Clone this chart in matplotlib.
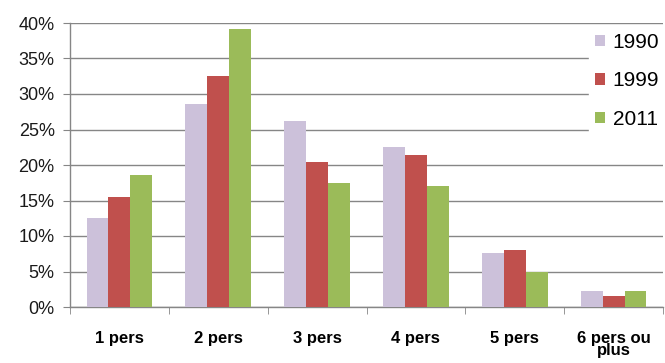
import numpy as np
import matplotlib
matplotlib.use("Agg")
import matplotlib.pyplot as plt
from matplotlib.ticker import FuncFormatter

plt.rcParams["font.family"] = ["Liberation Sans", "DejaVu Sans"]

# household size shares by census year
categories = ["1 pers", "2 pers", "3 pers", "4 pers", "5 pers", "6 pers ou\nplus"]
years = ["1990", "1999", "2011"]
share_1990 = [12.5, 28.6, 26.2, 22.5, 7.6, 2.2]
share_1999 = [15.5, 32.6, 20.4, 21.4, 8.0, 1.5]
share_2011 = [18.6, 39.2, 17.4, 17.1, 4.9, 2.2]
colors = ["#ccc1da", "#c0504d", "#9bbb59"]

grid_grey = "#868686"

fig = plt.figure(figsize=(6.65, 3.63), dpi=100)
ax = fig.add_axes([70 / 665, 1 - 307 / 363, 593 / 665, 284 / 363])

x = np.arange(len(categories))
width = 0.222
for i, (vals, year) in enumerate(zip([share_1990, share_1999, share_2011], years)):
    ax.bar(x + (i - 1) * width, np.array(vals) / 100, width, color=colors[i],
           label=year, zorder=3)

ax.set_xlim(-0.5, len(categories) - 0.5)
ax.set_ylim(0, 0.40)
ax.set_yticks(np.arange(0, 0.401, 0.05))
ax.yaxis.set_major_formatter(FuncFormatter(lambda v, _: f"{v * 100:.0f}%"))
ax.yaxis.grid(True, color=grid_grey, linewidth=1.0, zorder=0)
ax.set_axisbelow(True)

ax.set_xticks(x)
ax.set_xticklabels(categories, fontweight="bold", fontsize=12, linespacing=0.8,
                   va="top")
ax.set_xticks(np.arange(-0.5, len(categories)), minor=True)
ax.tick_params(axis="x", which="major", length=0, pad=17)
ax.tick_params(axis="x", which="minor", length=5, color=grid_grey, direction="out")
ax.tick_params(axis="y", length=5, color=grid_grey, direction="out", labelsize=13,
               labelcolor="#1a1a1a", pad=6)

for side in ["top", "right"]:
    ax.spines[side].set_visible(False)
for side in ["left", "bottom"]:
    ax.spines[side].set_color(grid_grey)
    ax.spines[side].set_linewidth(1.0)

leg = ax.legend(loc="upper right", bbox_to_anchor=(1.022, 1.025), fontsize=15,
                frameon=True, facecolor="white", edgecolor="white", framealpha=1,
                handlelength=0.5, handleheight=0.45, handletextpad=0.35,
                labelspacing=0.95, borderpad=0.3, fancybox=False)
leg.set_zorder(5)

fig.savefig("out.png", dpi=100)
